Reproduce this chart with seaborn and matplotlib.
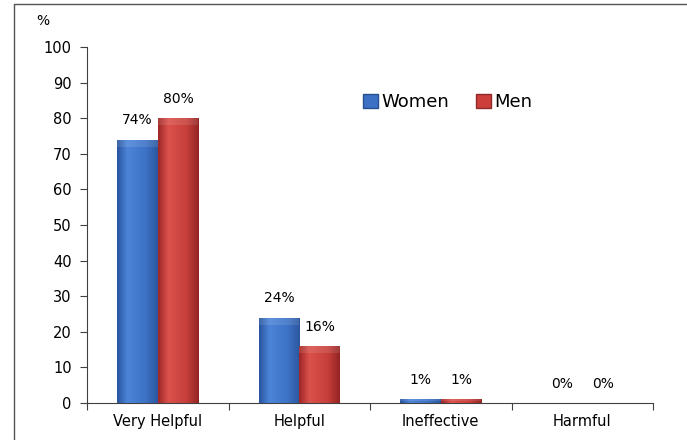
import matplotlib
matplotlib.use("Agg")
import matplotlib.pyplot as plt
import matplotlib.lines as mlines
import matplotlib.patches as mpatches
import numpy as np
import pandas as pd
import seaborn as sns

# data
categories = ["Very Helpful", "Helpful", "Ineffective", "Harmful"]
women = [74, 24, 1, 0]
men = [80, 16, 1, 0]
series = ["Women", "Men"]

df = pd.DataFrame({
    "answer": categories * 2,
    "pct": women + men,
    "group": ["Women"] * 4 + ["Men"] * 4,
})

sns.set_theme(style="white")
plt.rcParams['font.family'] = ['DejaVu Sans']
plt.rcParams['text.color'] = 'black'
plt.rcParams['xtick.color'] = 'black'
plt.rcParams['ytick.color'] = 'black'

fig = plt.figure(figsize=(6.87, 4.40), dpi=100)
ax = fig.add_axes([87 / 687, 1 - 403 / 440, 566 / 687, 356 / 440])

palette = {"Women": "#3b70c4", "Men": "#cc3f3b"}
sns.barplot(data=df, x="answer", y="pct", hue="group", order=categories,
            hue_order=series, palette=palette, width=0.575, ax=ax,
            saturation=1, edgecolor="none", legend=False)

# fake 3D look: horizontal gradient clipped to each bar
shades = {
    "Women": [(0.16, 0.33, 0.62), (0.30, 0.52, 0.85), (0.24, 0.45, 0.78), (0.17, 0.34, 0.62)],
    "Men": [(0.62, 0.15, 0.15), (0.86, 0.32, 0.30), (0.78, 0.25, 0.23), (0.58, 0.14, 0.14)],
}
for cont, name in zip(ax.containers, series):
    cols = np.array(shades[name])
    xs = np.linspace(0, 1, 64)
    grad = np.stack([np.interp(xs, [0, 0.25, 0.7, 1], cols[:, k]) for k in range(3)], axis=-1)
    grad = grad[None, :, :]
    for bar in cont:
        h = bar.get_height()
        if h <= 0:
            continue
        x0 = bar.get_x()
        w = bar.get_width()
        im = ax.imshow(grad, extent=[x0, x0 + w, 0, h], aspect="auto", zorder=3)
        im.set_clip_path(bar)
        # soft top bevel
        top = min(2.0, h * 0.3)
        ax.add_patch(mpatches.Rectangle((x0, h - top), w, top, color="white",
                                        alpha=0.10, lw=0, zorder=4))

# value labels
for cont, vals in zip(ax.containers, [women, men]):
    for bar, v in zip(cont, vals):
        ax.annotate(f"{v}%", (bar.get_x() + bar.get_width() / 2, bar.get_height()),
                    xytext=(0, 14), textcoords="offset points", ha="center",
                    va="center", fontsize=10, color="black")

ax.set_xlim(-0.5, 3.5)
ax.set_ylim(0, 100)
ax.set_yticks(range(0, 101, 10))
ax.set_xlabel("")
ax.set_ylabel("")
ax.tick_params(axis="y", which="major", direction="out", length=5, width=0.8,
               color="#404040", left=True, labelsize=10.5, pad=6)
ax.set_xticks(range(4))
ax.set_xticklabels(categories)
ax.set_xticks([-0.5, 0.5, 1.5, 2.5, 3.5], minor=True)
ax.tick_params(axis="x", which="major", length=0, labelsize=10.5, pad=8)
ax.tick_params(axis="x", which="minor", direction="out", length=5, width=0.8,
               color="#404040", bottom=True)
for s in ["top", "right"]:
    ax.spines[s].set_visible(False)
for s in ["left", "bottom"]:
    ax.spines[s].set_color("#404040")
    ax.spines[s].set_linewidth(0.8)
ax.grid(False)

fig.text(43 / 687, 1 - 21 / 440, "%", ha="center", va="center", fontsize=10)

# legend
handles = [mpatches.Patch(facecolor="#3b70c4", edgecolor="#2a4f8f", label="Women"),
           mpatches.Patch(facecolor="#cc3f3b", edgecolor="#8f2a2a", label="Men")]
fig.legend(handles=handles, loc="center left", bbox_to_anchor=(347 / 687, 1 - 102 / 440),
           ncol=2, frameon=False, fontsize=13, handlelength=0.8, handleheight=0.8,
           handletextpad=0.2, columnspacing=1.5,
           prop={"size": 13, "weight": "medium"})

# outer frame (top and left visible)
fig.add_artist(mlines.Line2D([14 / 687, 14 / 687], [0, 1 - 4 / 440], color="#555555", lw=1))
fig.add_artist(mlines.Line2D([14 / 687, 1], [1 - 4 / 440, 1 - 4 / 440], color="#555555", lw=1))

fig.savefig("out.png", dpi=100)
